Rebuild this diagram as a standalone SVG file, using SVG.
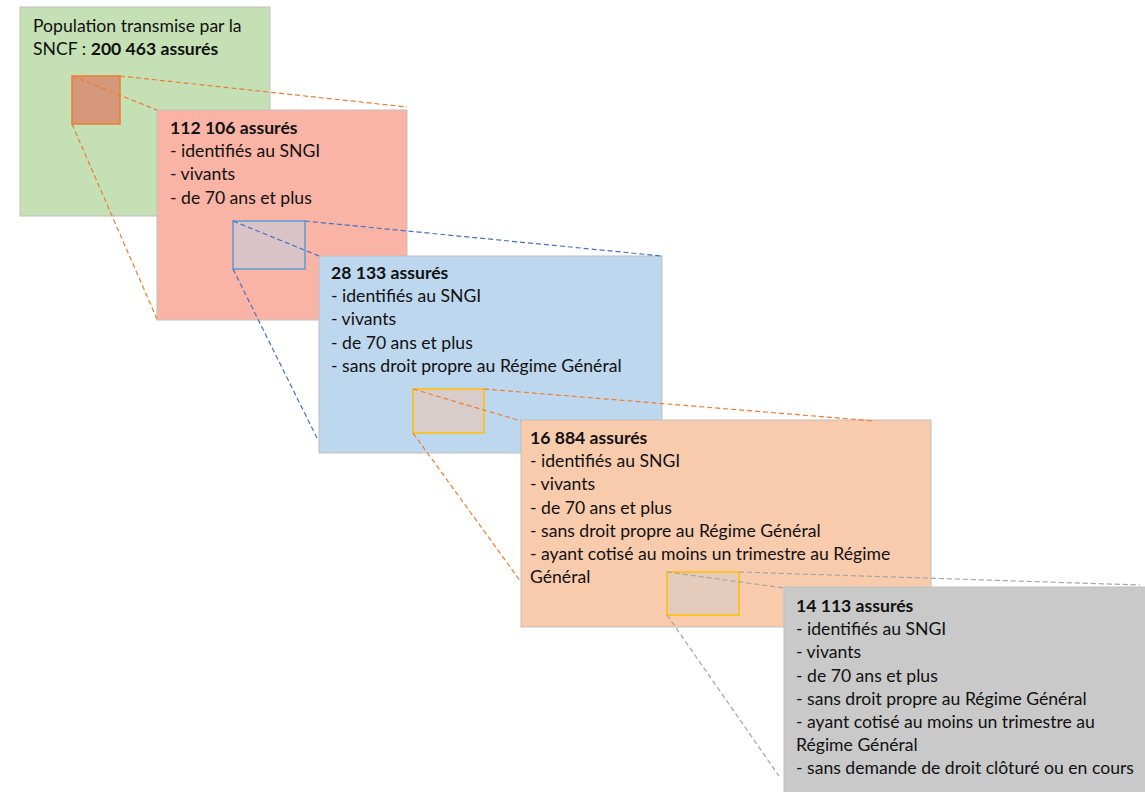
<svg xmlns="http://www.w3.org/2000/svg" width="1145" height="792" viewBox="0 0 1145 792">
<style>
.box{stroke:#BFBFBF;stroke-width:1}
.t{font-family:Lato,"Liberation Sans",sans-serif;font-size:17.6px;fill:#111111}
.b{font-weight:bold}
.c{fill:none;stroke-width:1.2;stroke-dasharray:5 3}
.o{stroke:#ED7D31}
.bl{stroke:#4472C4}
.g{stroke:#A5A5A5}
</style>
<rect width="1145" height="792" fill="#ffffff"/>
<g id="n1">
<rect class="box" x="20" y="7" width="250" height="209" fill="#C5E0B4"/>
<text class="t" x="33" y="31.5">Population transmise par la</text>
<text class="t" x="33" y="54.5">SNCF : <tspan class="b">200 463 assurés</tspan></text>
<rect x="72" y="76" width="48" height="48" fill="#D6987A" stroke="#ED7D31" stroke-width="1.5"/>
</g>
<g id="n2">
<rect class="box" x="157" y="110" width="250" height="210" fill="#F9B4A5"/>
<text class="t b" x="170" y="134">112 106 assurés</text>
<text class="t" x="170" y="157.2">- identifiés au SNGI</text>
<text class="t" x="170" y="180.4">- vivants</text>
<text class="t" x="170" y="203.6">- de 70 ans et plus</text>
<rect x="233" y="221" width="72" height="48" fill="#D9C3C7" stroke="#5B9BD5" stroke-width="1.5"/>
</g>
<g id="n3">
<rect class="box" x="319" y="256" width="343" height="197" fill="#BDD7EE"/>
<text class="t b" x="331" y="279">28 133 assurés</text>
<text class="t" x="331" y="302.2">- identifiés au SNGI</text>
<text class="t" x="331" y="325.4">- vivants</text>
<text class="t" x="331" y="348.6">- de 70 ans et plus</text>
<text class="t" x="331" y="371.8">- sans droit propre au Régime Général</text>
<rect x="413" y="389" width="71" height="44" fill="#D9CDCB" stroke="#FFC000" stroke-width="1.5"/>
</g>
<g id="n4">
<rect class="box" x="521" y="420" width="410" height="207" fill="#F8CBAD"/>
<text class="t b" x="530" y="444">16 884 assurés</text>
<text class="t" x="530" y="467.2">- identifiés au SNGI</text>
<text class="t" x="530" y="490.4">- vivants</text>
<text class="t" x="530" y="513.6">- de 70 ans et plus</text>
<text class="t" x="530" y="536.8">- sans droit propre au Régime Général</text>
<text class="t" x="530" y="560">- ayant cotisé au moins un trimestre au Régime</text>
<text class="t" x="530" y="583.2">Général</text>
<rect x="667" y="572" width="72" height="43" fill="#E4CBBC" stroke="#FFC000" stroke-width="1.5"/>
</g>
<g id="n5">
<rect class="box" x="784" y="587" width="370" height="215" fill="#C9C9C9"/>
<text class="t b" x="796" y="612">14 113 assurés</text>
<text class="t" x="796" y="635.2">- identifiés au SNGI</text>
<text class="t" x="796" y="658.4">- vivants</text>
<text class="t" x="796" y="681.6">- de 70 ans et plus</text>
<text class="t" x="796" y="704.8">- sans droit propre au Régime Général</text>
<text class="t" x="796" y="728">- ayant cotisé au moins un trimestre au</text>
<text class="t" x="796" y="751.2">Régime Général</text>
<text class="t" x="796" y="774.4">- sans demande de droit clôturé ou en cours</text>
</g>
<g id="connectors">
<line class="c o" x1="120" y1="76" x2="407" y2="107"/>
<line class="c o" x1="72" y1="76" x2="157" y2="110"/>
<line class="c o" x1="72" y1="124" x2="157" y2="319"/>
<line class="c bl" x1="305" y1="221" x2="662" y2="256"/>
<line class="c bl" x1="233" y1="221" x2="319" y2="256"/>
<line class="c bl" x1="233" y1="269" x2="317" y2="438"/>
<line class="c o" x1="484" y1="389" x2="875" y2="421"/>
<line class="c o" x1="413" y1="389" x2="521" y2="421"/>
<line class="c o" x1="413" y1="433" x2="521" y2="582"/>
<line class="c g" x1="739" y1="572" x2="1140" y2="585"/>
<line class="c g" x1="667" y1="572" x2="784" y2="588"/>
<line class="c g" x1="667" y1="615" x2="779" y2="776"/>
</g>
</svg>
